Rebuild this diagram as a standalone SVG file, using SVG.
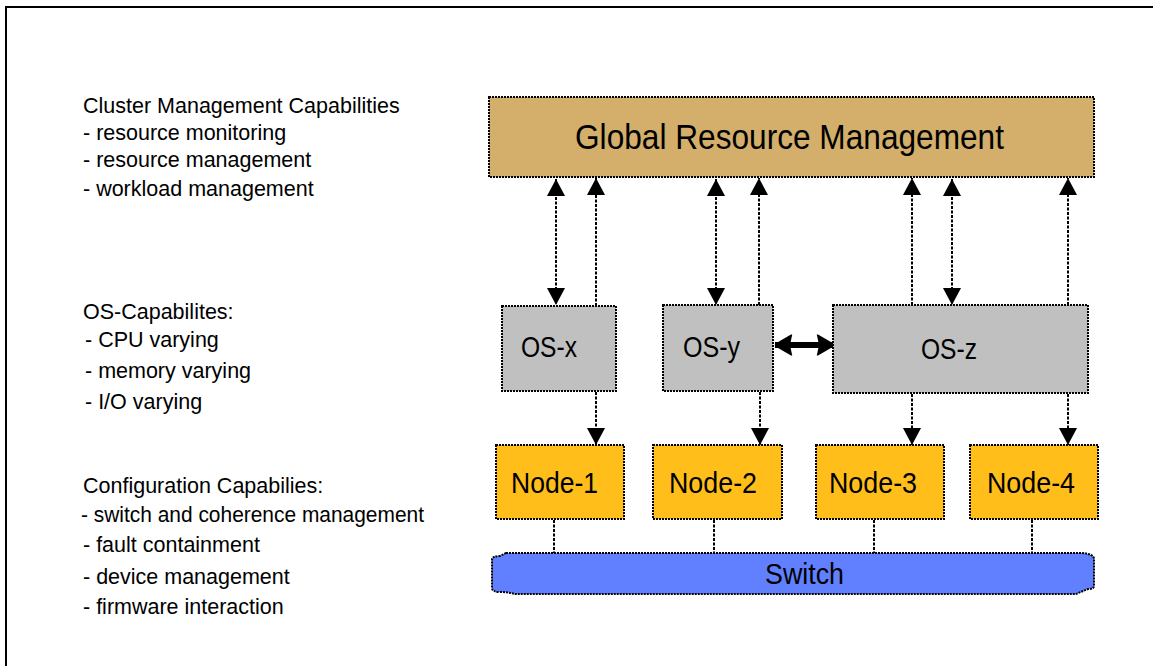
<svg xmlns="http://www.w3.org/2000/svg" width="1153" height="666" viewBox="0 0 1153 666">
<defs>
<style>
.t{font-family:"Liberation Sans",Arial,sans-serif;fill:#000}
.side{font-size:21.5px}
.box{stroke:#000;stroke-width:2;stroke-dasharray:2 1}
.con{stroke:#000;stroke-width:2;stroke-dasharray:3 1.5;fill:none}
</style>
<marker id="ah" viewBox="0 0 18 18" refX="17" refY="9" markerWidth="18" markerHeight="18" markerUnits="userSpaceOnUse" orient="auto-start-reverse">
<path d="M0,0 L17,9 L0,18 Z" fill="#000"/>
</marker>
<marker id="bh" viewBox="0 0 20 22" refX="19" refY="11" markerWidth="20" markerHeight="22" markerUnits="userSpaceOnUse" orient="auto-start-reverse">
<path d="M2,1.5 Q1,0 3,0.6 L18.5,9.5 Q20,11 18.5,12.5 L3,21.4 Q1,22 2,20.5 L4,11 Z" fill="#000"/>
</marker>
</defs>
<rect width="1153" height="666" fill="#fff"/>
<path d="M6,666 V7 H1153" fill="none" stroke="#000" stroke-width="2"/>

<g id="legend-cluster" class="t side">
<text x="83" y="113">Cluster Management Capabilities</text>
<text x="83" y="140">- resource monitoring</text>
<text x="83" y="167">- resource management</text>
<text x="83" y="196">- workload management</text>
</g>
<g id="legend-os" class="t side">
<text x="83" y="319">OS-Capabilites:</text>
<text x="85" y="347">- CPU varying</text>
<text x="85" y="378">- memory varying</text>
<text x="85" y="409">- I/O varying</text>
</g>
<g id="legend-config" class="t side">
<text x="83" y="493">Configuration Capabilies:</text>
<text x="81" y="522" textLength="343" lengthAdjust="spacingAndGlyphs">- switch and coherence management</text>
<text x="83" y="552">- fault containment</text>
<text x="83" y="584">- device management</text>
<text x="83" y="614">- firmware interaction</text>
</g>

<g id="connectors">
<line class="con" x1="556" y1="179" x2="556" y2="305" marker-start="url(#ah)" marker-end="url(#ah)"/>
<line class="con" x1="596" y1="306" x2="596" y2="178" marker-end="url(#ah)"/>
<line class="con" x1="716" y1="179" x2="716" y2="305" marker-start="url(#ah)" marker-end="url(#ah)"/>
<line class="con" x1="759" y1="305" x2="759" y2="178" marker-end="url(#ah)"/>
<line class="con" x1="912" y1="305" x2="912" y2="178" marker-end="url(#ah)"/>
<line class="con" x1="952" y1="179" x2="952" y2="305" marker-start="url(#ah)" marker-end="url(#ah)"/>
<line class="con" x1="1068" y1="305" x2="1068" y2="178" marker-end="url(#ah)"/>
<line class="con" x1="596" y1="392" x2="596" y2="445" marker-end="url(#ah)"/>
<line class="con" x1="760" y1="392" x2="760" y2="445" marker-end="url(#ah)"/>
<line class="con" x1="912" y1="394" x2="912" y2="445" marker-end="url(#ah)"/>
<line class="con" x1="1068" y1="394" x2="1068" y2="445" marker-end="url(#ah)"/>
<line x1="775" y1="345" x2="834" y2="345" stroke="#000" stroke-width="6" marker-start="url(#bh)" marker-end="url(#bh)"/>
<line class="con" x1="554" y1="520" x2="554" y2="554"/>
<line class="con" x1="714" y1="520" x2="714" y2="554"/>
<line class="con" x1="874" y1="520" x2="874" y2="554"/>
<line class="con" x1="1032" y1="520" x2="1032" y2="554"/>
</g>

<g id="global">
<rect class="box" x="489" y="97" width="605" height="80" fill="#D3AF6B"/>
<text class="t" x="575" y="149" font-size="35" textLength="429" lengthAdjust="spacingAndGlyphs">Global Resource Management</text>
</g>
<g id="os-x">
<rect class="box" x="502" y="306" width="114" height="85" fill="#C0C0C0"/>
<text class="t" x="521" y="357" font-size="29" textLength="56" lengthAdjust="spacingAndGlyphs">OS-x</text>
</g>
<g id="os-y">
<rect class="box" x="663" y="305" width="110" height="86" fill="#C0C0C0"/>
<text class="t" x="683" y="357" font-size="29" textLength="57" lengthAdjust="spacingAndGlyphs">OS-y</text>
</g>
<g id="os-z">
<rect class="box" x="833" y="305" width="255" height="88" fill="#C0C0C0"/>
<text class="t" x="921" y="359" font-size="29" textLength="56" lengthAdjust="spacingAndGlyphs">OS-z</text>
</g>
<g id="node-1">
<rect class="box" x="496" y="445" width="128" height="74" fill="#FFBE1A"/>
<text class="t" x="511" y="493" font-size="29" textLength="87" lengthAdjust="spacingAndGlyphs">Node-1</text>
</g>
<g id="node-2">
<rect class="box" x="653" y="445" width="129" height="74" fill="#FFBE1A"/>
<text class="t" x="669" y="493" font-size="29" textLength="88" lengthAdjust="spacingAndGlyphs">Node-2</text>
</g>
<g id="node-3">
<rect class="box" x="816" y="445" width="128" height="74" fill="#FFBE1A"/>
<text class="t" x="829" y="493" font-size="29" textLength="88" lengthAdjust="spacingAndGlyphs">Node-3</text>
</g>
<g id="node-4">
<rect class="box" x="970" y="445" width="128" height="74" fill="#FFBE1A"/>
<text class="t" x="987" y="493" font-size="29" textLength="88" lengthAdjust="spacingAndGlyphs">Node-4</text>
</g>
<g id="switch">
<path class="box" d="M506,553 H1082 Q1094,554 1094,559 V586 Q1094,589 1088,589 L1076,594 H515 Q508,592 500,592 Q492,592 492,588 V560 Q492,556 500,556 Z" fill="#6080FF"/>
<text class="t" x="765" y="584" font-size="29" textLength="79" lengthAdjust="spacingAndGlyphs">Switch</text>
</g>
</svg>
